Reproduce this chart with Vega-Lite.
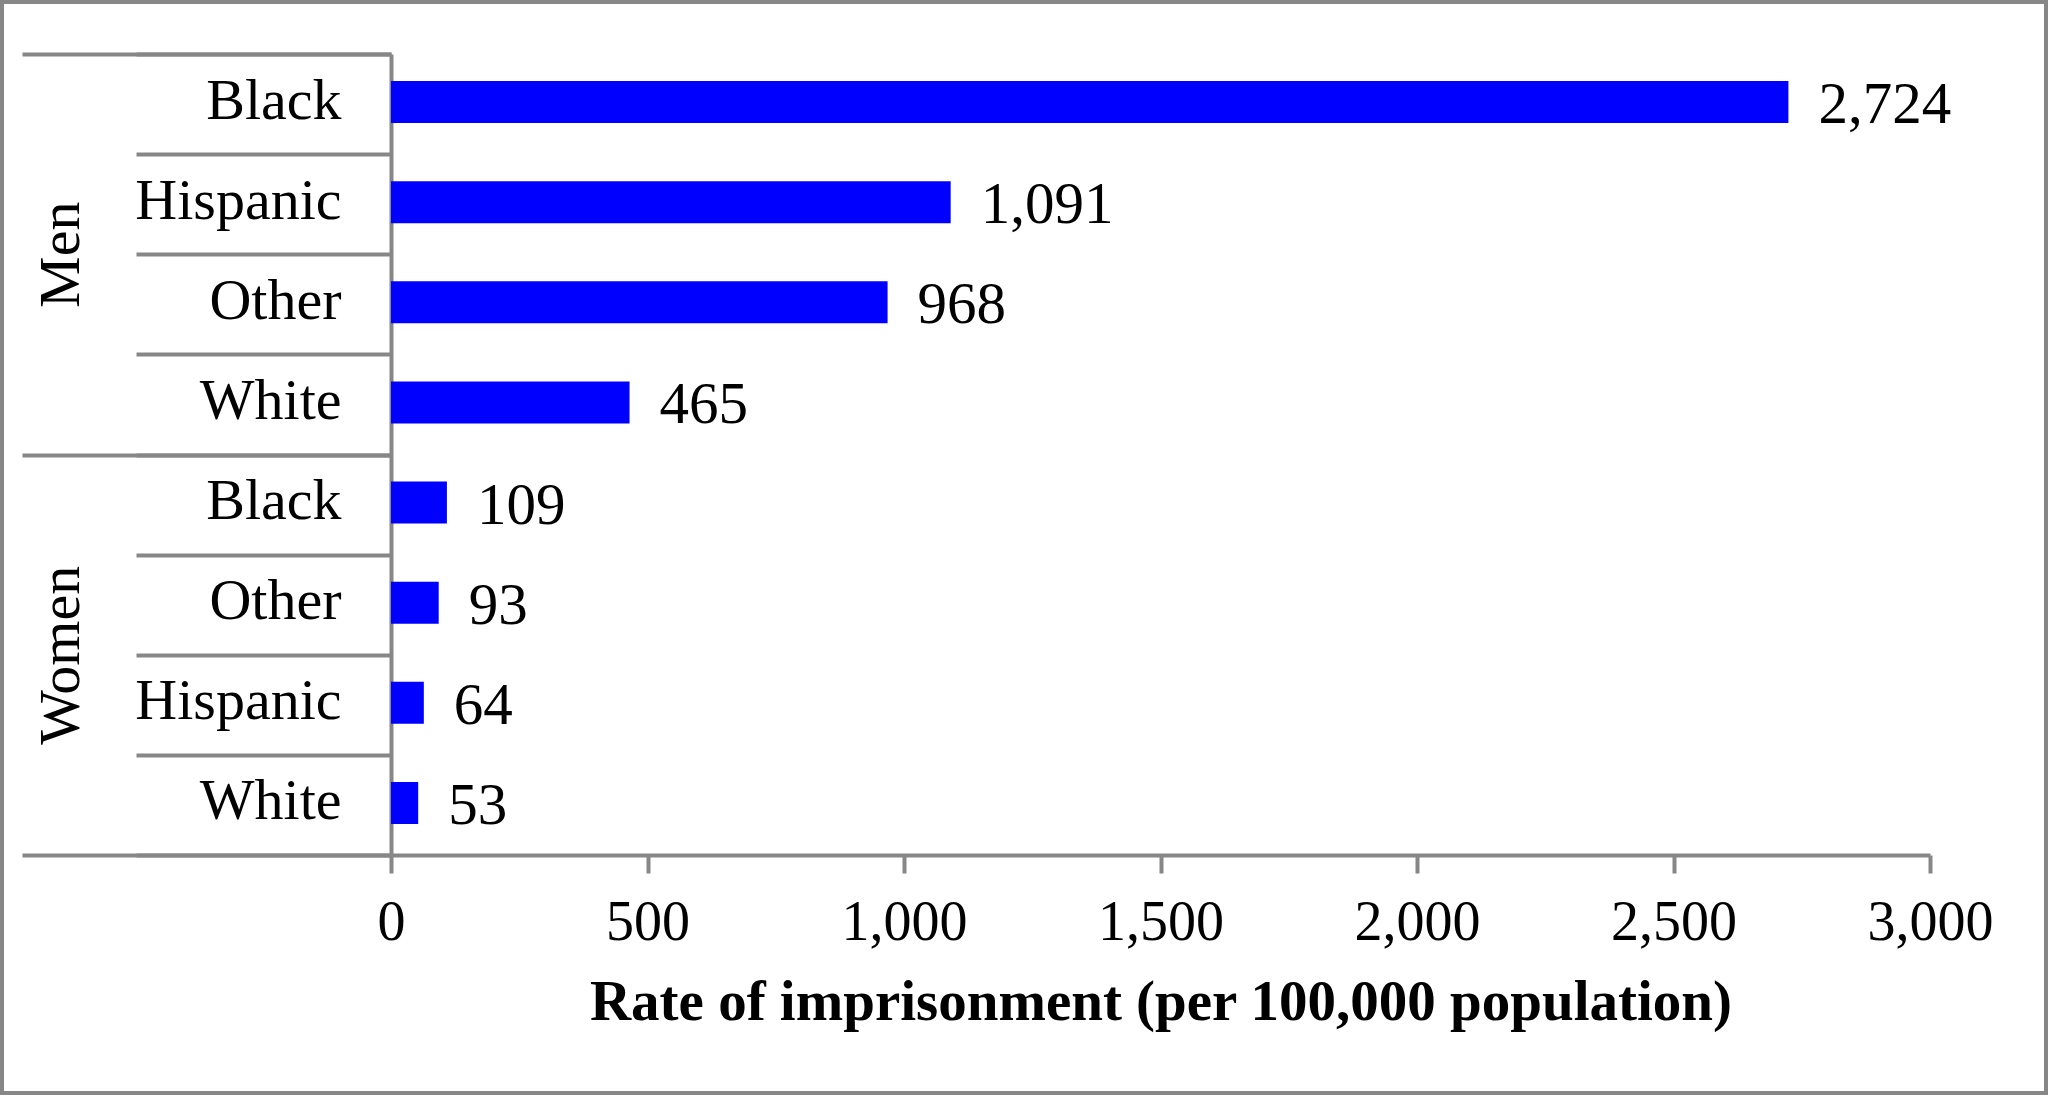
{
  "$schema": "https://vega.github.io/schema/vega-lite/v6.json",
  "width": 2048,
  "height": 1095,
  "autosize": {"type": "none"},
  "padding": 0,
  "background": "white",
  "config": {
    "view": {"stroke": "#878787", "strokeWidth": 8, "fill": "white"},
    "font": "Liberation Serif"
  },
  "data": {
    "values": [
      {"group": "Men", "race": "Black", "key": "Men|Black", "rate": 2724},
      {"group": "Men", "race": "Hispanic", "key": "Men|Hispanic", "rate": 1091},
      {"group": "Men", "race": "Other", "key": "Men|Other", "rate": 968},
      {"group": "Men", "race": "White", "key": "Men|White", "rate": 465},
      {"group": "Women", "race": "Black", "key": "Women|Black", "rate": 109},
      {"group": "Women", "race": "Other", "key": "Women|Other", "rate": 93},
      {"group": "Women", "race": "Hispanic", "key": "Women|Hispanic", "rate": 64},
      {"group": "Women", "race": "White", "key": "Women|White", "rate": 53}
    ]
  },
  "layer": [
    {
      "layer": [
        {
          "mark": {"type": "bar", "color": "#0000FF", "height": {"band": 0.42}, "yOffset": -2},
          "encoding": {
            "y": {
              "field": "key",
              "type": "nominal",
              "sort": null,
              "scale": {"range": [54, 855], "paddingInner": 0, "paddingOuter": 0},
              "axis": {
                "orient": "left",
                "offset": -391,
                "title": null,
                "tickBand": "extent",
                "tickSize": 255,
                "tickWidth": 4,
                "tickColor": "#878787",
                "domainColor": "#878787",
                "domainWidth": 4,
                "labelExpr": "split(datum.label, '|')[1]",
                "labelAlign": "right",
                "labelBaseline": "alphabetic",
                "labelOffset": 14,
                "labelPadding": -205,
                "labelFontSize": 58,
                "labelFont": "Liberation Serif",
                "labelColor": "black",
                "labelOverlap": false,
                "labelBound": false,
                "labelFlush": false,
                "labelLimit": 0,
                "grid": false
              }
            },
            "x": {
              "field": "rate",
              "type": "quantitative",
              "scale": {"domain": [0, 3000], "range": [391, 1930], "nice": false, "zero": true},
              "axis": {
                "orient": "bottom",
                "offset": -240,
                "title": "Rate of imprisonment (per 100,000 population)",
                "values": [0, 500, 1000, 1500, 2000, 2500, 3000],
                "labelExpr": "format(datum.value, ',.0f')",
                "tickSize": 18,
                "tickWidth": 4,
                "tickColor": "#878787",
                "domainColor": "#878787",
                "domainWidth": 4,
                "labelFontSize": 56,
                "labelFont": "Liberation Serif",
                "labelColor": "black",
                "labelPadding": 22,
                "labelFlush": false,
                "labelOverlap": false,
                "titleFontSize": 57,
                "titleFont": "Liberation Serif",
                "titleFontWeight": "bold",
                "titleColor": "black",
                "titleY": 164,
                "titleBaseline": "alphabetic",
                "grid": false
              }
            }
          }
        },
        {
          "mark": {
            "type": "text",
            "align": "left",
            "baseline": "alphabetic",
            "dx": 30,
            "dy": 19,
            "fontSize": 59,
            "font": "Liberation Serif",
            "color": "black"
          },
          "encoding": {
            "y": {"field": "key", "type": "nominal", "sort": null},
            "x": {"field": "rate", "type": "quantitative"},
            "text": {"field": "rate", "type": "quantitative", "format": ","}
          }
        }
      ]
    },
    {
      "mark": {"type": "point", "opacity": 0},
      "encoding": {
        "y": {
          "field": "group",
          "type": "nominal",
          "sort": null,
          "scale": {"range": [54, 855], "paddingInner": 0, "paddingOuter": 0},
          "axis": {
            "orient": "left",
            "offset": -391,
            "title": null,
            "tickBand": "extent",
            "tickSize": 369,
            "tickWidth": 4,
            "tickColor": "#878787",
            "domain": false,
            "labelAngle": -90,
            "labelAlign": "center",
            "labelBaseline": "alphabetic",
            "labelPadding": -56,
            "labelFontSize": 58,
            "labelFont": "Liberation Serif",
            "labelColor": "black",
            "labelOverlap": false,
            "labelBound": false,
            "labelFlush": false,
            "grid": false
          }
        }
      }
    }
  ],
  "resolve": {"scale": {"y": "independent"}, "axis": {"y": "independent"}}
}
